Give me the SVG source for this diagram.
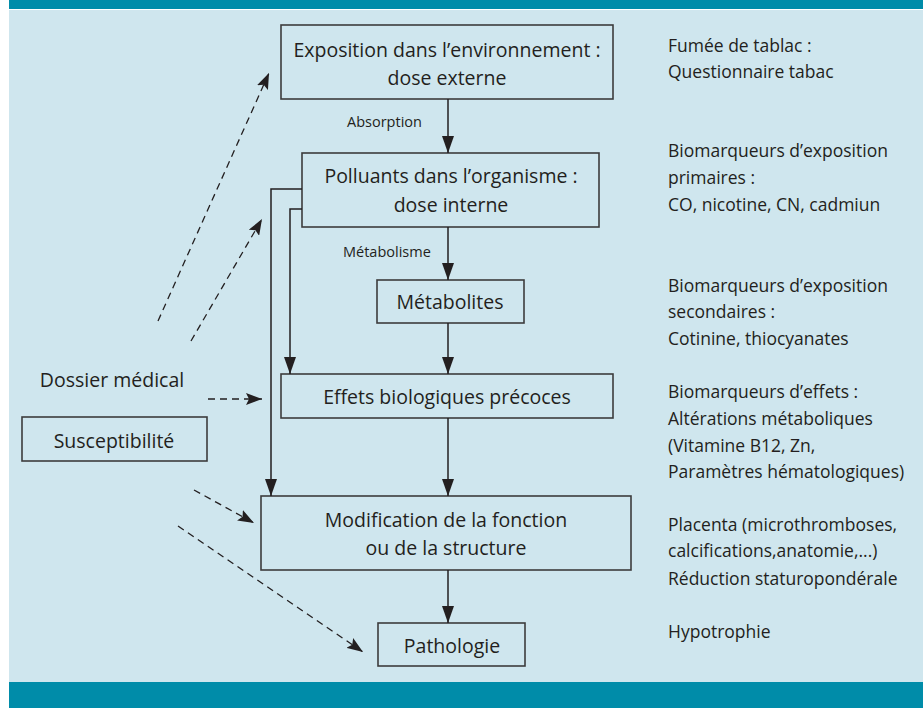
<svg xmlns="http://www.w3.org/2000/svg" width="923" height="708" viewBox="0 0 923 708">
<defs>
<marker id="ah" markerUnits="userSpaceOnUse" markerWidth="17" markerHeight="12" viewBox="0 0 17 12" refX="17" refY="6" orient="auto"><path d="M0,0 L17,6 L0,12 z" fill="#231f20"/></marker>
<marker id="ahd" markerUnits="userSpaceOnUse" markerWidth="16" markerHeight="12" viewBox="0 0 16 12" refX="16" refY="6" orient="auto"><path d="M0,0 L16,6 L0,12 L3,6 z" fill="#231f20"/></marker>
<style>
.bg{fill:#cfe6ee}
.bar{fill:#008ca9}
.box{fill:none;stroke:#3c3c3c;stroke-width:1.6}
.t{font-family:"Open Sans","Liberation Sans",sans-serif;fill:#231f20}
.bt{font-size:19.5px;text-anchor:middle}
.rt{font-size:17.5px}
.sm{font-size:14.5px}
.c{fill:none;stroke:#231f20;stroke-width:1.5}
.d{fill:none;stroke:#231f20;stroke-width:1.3;stroke-dasharray:7 5}
</style>
</defs>
<rect x="0" y="0" width="923" height="708" fill="#ffffff"/>
<rect class="bg" x="9" y="10" width="914" height="672"/>
<rect class="bar" x="9" y="0" width="914" height="9"/>
<rect class="bar" x="9" y="682" width="914" height="26"/>

<g id="n-exposition">
<rect class="box" x="281" y="25" width="332" height="74"/>
<text class="t bt" x="447" y="57">Exposition dans l’environnement :</text>
<text class="t bt" x="447" y="85">dose externe</text>
</g>
<g id="n-polluants">
<rect class="box" x="302" y="153" width="297" height="74"/>
<text class="t bt" x="451" y="183">Polluants dans l’organisme :</text>
<text class="t bt" x="451" y="212">dose interne</text>
</g>
<g id="n-metabolites">
<rect class="box" x="377" y="280" width="147" height="43"/>
<text class="t bt" x="450" y="309">Métabolites</text>
</g>
<g id="n-effets">
<rect class="box" x="281" y="374" width="332" height="44"/>
<text class="t bt" x="447" y="404">Effets biologiques précoces</text>
</g>
<g id="n-modification">
<rect class="box" x="261" y="496" width="370" height="74"/>
<text class="t bt" x="446" y="527">Modification de la fonction</text>
<text class="t bt" x="446" y="555">ou de la structure</text>
</g>
<g id="n-pathologie">
<rect class="box" x="378" y="623" width="147" height="43"/>
<text class="t bt" x="452" y="653">Pathologie</text>
</g>
<g id="n-susceptibilite">
<rect class="box" x="22" y="417" width="185" height="44"/>
<text class="t bt" x="114" y="448">Susceptibilité</text>
</g>
<g id="n-dossier">
<text class="t bt" x="112" y="387">Dossier médical</text>
</g>

<g id="connectors">
<line class="c" x1="448" y1="99" x2="448" y2="153" marker-end="url(#ah)"/>
<line class="c" x1="448" y1="227" x2="448" y2="280" marker-end="url(#ah)"/>
<line class="c" x1="448" y1="323" x2="448" y2="374" marker-end="url(#ah)"/>
<line class="c" x1="448" y1="418" x2="448" y2="496" marker-end="url(#ah)"/>
<line class="c" x1="448" y1="570" x2="448" y2="623" marker-end="url(#ah)"/>
<polyline class="c" points="302,189 271,189 271,496" marker-end="url(#ah)"/>
<polyline class="c" points="302,209 290,209 290,374" marker-end="url(#ah)"/>
<line class="d" x1="158" y1="321" x2="269" y2="73" marker-end="url(#ahd)"/>
<line class="d" x1="191" y1="341" x2="262" y2="219" marker-end="url(#ahd)"/>
<line class="d" x1="208" y1="399" x2="262" y2="399" marker-end="url(#ahd)"/>
<line class="d" x1="194" y1="490" x2="254" y2="523" marker-end="url(#ahd)"/>
<line class="d" x1="178" y1="526" x2="363" y2="652" marker-end="url(#ahd)"/>
<text class="t sm" x="347" y="127">Absorption</text>
<text class="t sm" x="343" y="257">Métabolisme</text>
</g>

<g id="notes">
<text class="t rt" x="668" y="52">Fumée de tablac :</text>
<text class="t rt" x="668" y="78">Questionnaire tabac</text>
<text class="t rt" x="668" y="157">Biomarqueurs d’exposition</text>
<text class="t rt" x="668" y="184">primaires :</text>
<text class="t rt" x="668" y="211">CO, nicotine, CN, cadmiun</text>
<text class="t rt" x="668" y="292">Biomarqueurs d’exposition</text>
<text class="t rt" x="668" y="318">secondaires :</text>
<text class="t rt" x="668" y="345">Cotinine, thiocyanates</text>
<text class="t rt" x="668" y="398">Biomarqueurs d’effets :</text>
<text class="t rt" x="668" y="425">Altérations métaboliques</text>
<text class="t rt" x="668" y="452">(Vitamine B12, Zn,</text>
<text class="t rt" x="668" y="478">Paramètres hématologiques)</text>
<text class="t rt" x="668" y="531">Placenta (microthromboses,</text>
<text class="t rt" x="668" y="557">calcifications,anatomie,...)</text>
<text class="t rt" x="668" y="585">Réduction staturopondérale</text>
<text class="t rt" x="668" y="638">Hypotrophie</text>
</g>
</svg>
